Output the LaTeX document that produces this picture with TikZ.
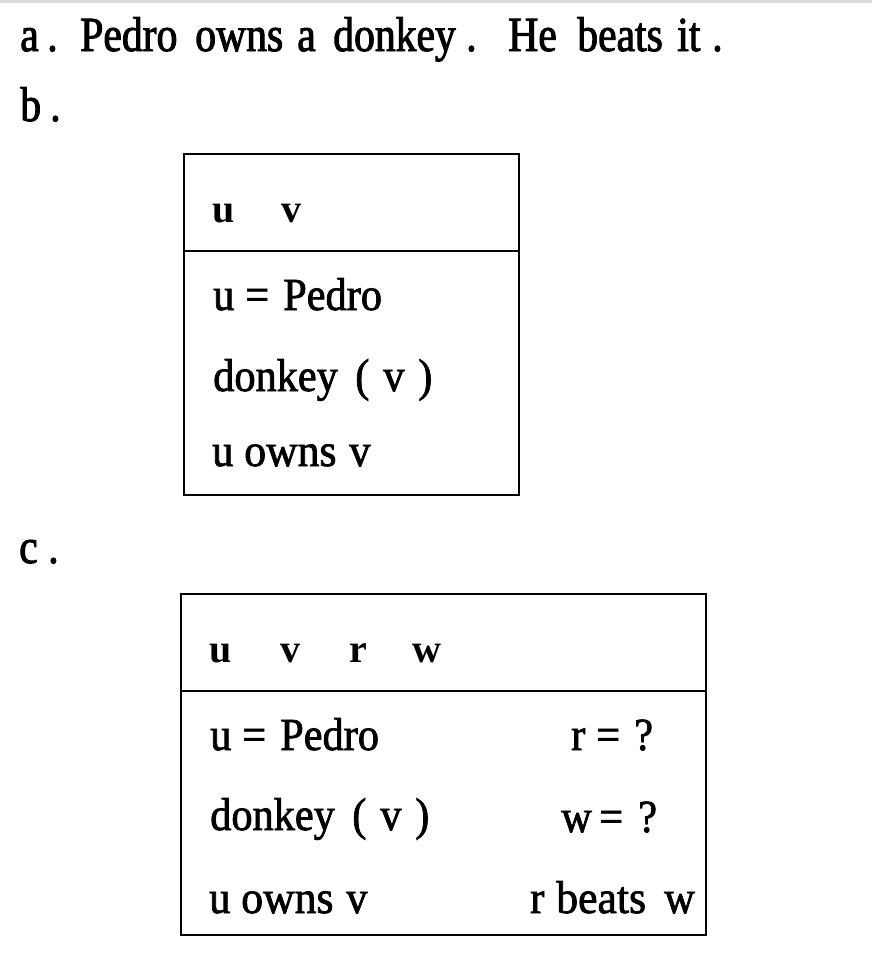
\documentclass[tikz,border=0pt]{standalone}
\usepackage{fontspec}
\setmainfont{Liberation Serif}
\newfontfamily\titlef[FakeStretch=0.85,FakeBold=2]{Liberation Serif}
\newfontfamily\boxf[FakeStretch=0.92,FakeBold=1.6]{Liberation Serif}
\newfontfamily\boxw[FakeStretch=0.95,FakeBold=1.6]{Liberation Serif}
\begin{document}
\begin{tikzpicture}[x=0.75pt,y=-0.75pt,
  txt/.style={inner sep=0pt, anchor=base west},
  big/.style={font=\titlef\fontsize{36.75}{42}\selectfont},
  bx/.style={font=\boxf\fontsize{34.5}{40}\selectfont},
  bxw/.style={font=\boxw\fontsize{34.5}{40}\selectfont},
  hdr/.style={font=\bfseries\fontsize{30}{34}\selectfont},
  drsbox/.style={draw, line width=2pt},
  drsline/.style={draw, line width=1.6pt}]
\useasboundingbox (0,0) rectangle (872,960);
\fill[gray!30] (0,0) rectangle (872,3);
% title
\node[txt,big] (t1) at (20,51) {a};
\node[txt,big] (t2) at (47,51) {.};
\node[txt,big] (t3) at (80,51) {Pedro};
\node[txt,big] (t4) at (195,51) {owns};
\node[txt,big] (t5) at (297,51) {a};
\node[txt,big] (t6) at (333,51) {donkey};
\node[txt,big] (t7) at (466,51) {.};
\node[txt,big] (t8) at (508,51) {He};
\node[txt,big] (t9) at (577,51) {beats};
\node[txt,big] (t10) at (677,51) {it};
\node[txt,big] (t11) at (712,51) {.};
% b
\node[txt,big] (lb) at (20,121) {b};
\node[txt,big] (lbp) at (50,121) {.};
\draw[drsbox] (184,154) rectangle (519,495);
\draw[drsline] (184,251) -- (519,251);
\node[txt,hdr] (bu) at (212,222) {u};
\node[txt,hdr] (bv) at (281,222) {v};
\node[txt,bx] (b1a) at (213,310) {u};
\node[txt,bx] (b1b) at (245,310) {=};
\node[txt,bx] (b1c) at (283,310) {Pedro};
\node[txt,bx] (b2a) at (213,391) {donkey};
\node[txt,bx] (b2b) at (355,391) {(};
\node[txt,bx] (b2c) at (383,391) {v};
\node[txt,bx] (b2d) at (418,391) {)};
\node[txt,bx] (b3a) at (212,466) {u};
\node[txt,bxw] (b3b) at (244,466) {owns};
\node[txt,bx] (b3c) at (349,466) {v};
% c
\node[txt,big] (lc) at (19,563) {c};
\node[txt,big] (lcp) at (48,563) {.};
\draw[drsbox] (181,594) rectangle (706,935);
\draw[drsline] (181,691) -- (706,691);
\node[txt,hdr] (cu) at (209,662) {u};
\node[txt,hdr] (cv) at (280,662) {v};
\node[txt,hdr] (cr) at (349,662) {r};
\node[txt,hdr] (cw) at (412,662) {w};
\node[txt,bx] (c1a) at (210,750) {u};
\node[txt,bx] (c1b) at (242,750) {=};
\node[txt,bx] (c1c) at (280,750) {Pedro};
\node[txt,bx] (c2a) at (210,830) {donkey};
\node[txt,bx] (c2b) at (352,830) {(};
\node[txt,bx] (c2c) at (380,830) {v};
\node[txt,bx] (c2d) at (415,830) {)};
\node[txt,bx] (c3a) at (209,913) {u};
\node[txt,bxw] (c3b) at (241,913) {owns};
\node[txt,bx] (c3c) at (346,913) {v};
\node[txt,bx] (c4a) at (571,750) {r};
\node[txt,bx] (c4b) at (596,750) {=};
\node[txt,bx] (c4c) at (634,750) {?};
\node[txt,bx] (c5a) at (561,832) {w};
\node[txt,bx] (c5b) at (599,832) {=};
\node[txt,bx] (c5c) at (638,832) {?};
\node[txt,bx] (c6a) at (530,913) {r};
\node[txt,bxw] (c6b) at (556,913) {beats};
\node[txt,bx] (c6c) at (664,913) {w};
\end{tikzpicture}
\end{document}
